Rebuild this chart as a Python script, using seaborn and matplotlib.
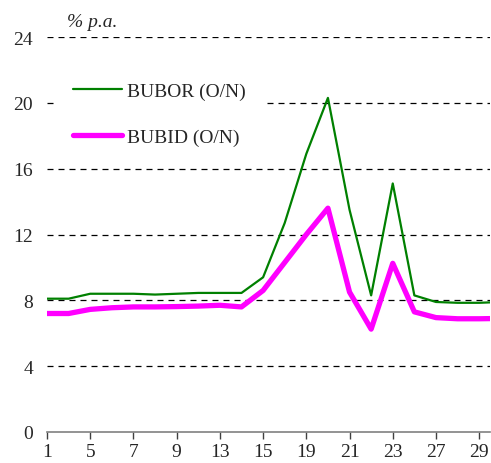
import numpy as np
import pandas as pd
import seaborn as sns
import matplotlib.pyplot as plt
from matplotlib.lines import Line2D

# trading days of the month (weekends skipped)
days = [1, 2, 5, 6, 7, 8, 9, 12, 13, 14, 15, 16, 19, 20, 21, 22, 23, 26, 27, 28, 29, 30]
bubor = [8.1, 8.1, 8.4, 8.4, 8.4, 8.35, 8.4, 8.45, 8.45, 8.45, 9.4, 12.7,
         16.9, 20.3, 13.5, 8.3, 15.1, 8.3, 7.9, 7.85, 7.85, 7.9]
bubid = [7.2, 7.2, 7.45, 7.55, 7.6, 7.6, 7.62, 7.65, 7.7, 7.6, 8.6, 10.3,
         12.0, 13.6, 8.5, 6.25, 10.25, 7.3, 6.95, 6.88, 6.88, 6.9]
series_names = ['BUBOR (O/N)', 'BUBID (O/N)']
y_ticks = [0, 4, 8, 12, 16, 20, 24]

sns.set_style('white')
plt.rcParams['font.family'] = ['Liberation Serif', 'DejaVu Serif']

pos = np.arange(len(days))
df = pd.DataFrame({
    'pos': np.concatenate([pos, pos]),
    'rate': bubor + bubid,
    'series': [series_names[0]] * len(days) + [series_names[1]] * len(days),
})

fig = plt.figure(figsize=(4.91, 4.64), dpi=100)
ax = fig.add_axes([47 / 491, 1 - 433 / 464, (490 - 47) / 491, (433 - 38) / 464])

palette = {series_names[0]: '#008000', series_names[1]: '#ff00ff'}
sizes = {series_names[0]: 1.6, series_names[1]: 3.8}
sns.lineplot(data=df, x='pos', y='rate', hue='series', size='series',
             palette=palette, sizes=sizes, legend=False, ax=ax,
             solid_joinstyle='round', solid_capstyle='round', zorder=3)

ax.set_xlim(0, 20.5)
ax.set_ylim(0, 24)
ax.set_yticks(y_ticks)
ax.set_yticklabels([str(v) for v in y_ticks])
ax.set_xticks(pos[::2][:11])
ax.set_xticklabels([str(d) for d in days[::2][:11]])
ax.set_xlabel('')
ax.set_ylabel('')

# dashed horizontal gridlines
for v in y_ticks[1:]:
    ax.axhline(v, color='black', lw=0.9, dashes=(4.8, 4.0), zorder=1)

for s in ['top', 'right', 'left']:
    ax.spines[s].set_visible(False)
ax.spines['bottom'].set_color('#808080')
ax.spines['bottom'].set_linewidth(1.2)

ax.tick_params(axis='y', length=0, pad=10, labelsize=14)
ax.tick_params(axis='x', direction='out', length=5, width=1, color='#404040',
               pad=3, labelsize=14, bottom=True)

handles = [Line2D([], [], color=palette[n], lw=sizes[n]) for n in series_names]
leg = ax.legend(handles, series_names, loc='upper left',
                bbox_to_anchor=(54 / 491, 1 - 64 / 464), bbox_transform=fig.transFigure,
                fontsize=14, frameon=True, fancybox=False, borderpad=1.0,
                handlelength=2.5, handletextpad=0.25, labelspacing=1.45,
                borderaxespad=0)
leg.get_frame().set_facecolor('white')
leg.get_frame().set_edgecolor('none')
leg.get_frame().set_alpha(1)
leg.set_zorder(2)

fig.text(67 / 491, 1 - 27 / 464, '% p.a.', fontsize=14, style='italic',
         ha='left', va='baseline')

fig.savefig('out.png', dpi=100)
